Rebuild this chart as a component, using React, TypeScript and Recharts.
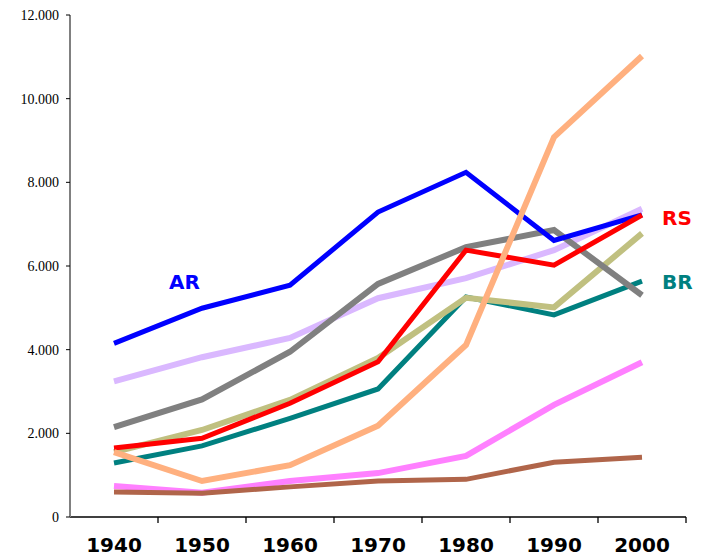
import React from "react";
import { LineChart, Line, XAxis, YAxis, ReferenceDot } from "recharts";

const years = ["1940", "1950", "1960", "1970", "1980", "1990", "2000"];
const yTicks = [0, 2000, 4000, 6000, 8000, 10000, 12000];
const yTickLabels = ["0", "2.000", "4.000", "6.000", "8.000", "10.000", "12.000"];

const seriesAR = [4150, 4990, 5540, 7290, 8240, 6610, 7220];
const seriesLavender = [3240, 3820, 4280, 5230, 5710, 6380, 7370];
const seriesGray = [2150, 2810, 3950, 5570, 6450, 6860, 5300];
const seriesRS = [1650, 1880, 2720, 3710, 6380, 6020, 7220];
const seriesKhaki = [1550, 2080, 2800, 3800, 5240, 5010, 6780];
const seriesBR = [1290, 1700, 2360, 3060, 5260, 4830, 5640];
const seriesPeach = [1550, 860, 1240, 2180, 4110, 9080, 11020];
const seriesPink = [740, 580, 860, 1050, 1460, 2680, 3700];
const seriesBrown = [600, 570, 720, 860, 900, 1310, 1430];

const annotations = [
  { text: "AR", x: "1950", y: 5620, color: "#0000FF", position: "left", offset: 2 },
  { text: "RS", x: "2000", y: 7150, color: "#FF0000", position: "right", offset: 20 },
  { text: "BR", x: "2000", y: 5620, color: "#008080", position: "right", offset: 20 },
];

const data = years.map((year, i) => ({
  year,
  ar: seriesAR[i],
  lavender: seriesLavender[i],
  gray: seriesGray[i],
  rs: seriesRS[i],
  khaki: seriesKhaki[i],
  br: seriesBR[i],
  peach: seriesPeach[i],
  pink: seriesPink[i],
  brown: seriesBrown[i],
}));

const XTick = (props: any) => {
  const { x, y, payload, index, visibleTicksCount } = props;
  const off = payload && typeof payload.offset === "number" && payload.offset > 0 ? payload.offset : 44;
  const isLast = index === (visibleTicksCount ?? years.length) - 1;
  return (
    <g>
      {index > 0 && (
        <line x1={x - off} x2={x - off} y1={y} y2={y + 6} stroke="#000" strokeWidth={1.3} />
      )}
      {isLast && (
        <line x1={x + off} x2={x + off} y1={y} y2={y + 6} stroke="#000" strokeWidth={1.3} />
      )}
      <text
        x={x}
        y={y + 35}
        textAnchor="middle"
        fontFamily="DejaVu Sans"
        fontWeight="bold"
        fontSize={20}
        fill="#000"
      >
        {payload.value}
      </text>
    </g>
  );
};

const fmtY = (v: number) => {
  const i = yTicks.indexOf(v);
  return i >= 0 ? yTickLabels[i] : String(v);
};

export default function App() {
  return (
    <LineChart
      width={697}
      height={549}
      data={data}
      margin={{ top: 7, right: 19, left: 0, bottom: 0 }}
    >
      <XAxis
        dataKey="year"
        scale="band"
        height={40}
        tickSize={0}
        tickMargin={0}
        tickLine={false}
        axisLine={{ stroke: "#000", strokeWidth: 1.5 }}
        tick={<XTick />}
        interval={0}
      />
      <YAxis
        width={62}
        domain={[0, 12000]}
        ticks={yTicks}
        tickFormatter={fmtY}
        interval={0}
        tickSize={4}
        tickMargin={7}
        axisLine={{ stroke: "#808080", strokeWidth: 2 }}
        tickLine={{ stroke: "#000" }}
        tick={{ fontFamily: "Liberation Serif", fontSize: 14, fill: "#000" }}
      />
      <Line dataKey="br" stroke="#008080" strokeWidth={5} dot={false} isAnimationActive={false} />
      <Line dataKey="khaki" stroke="#C0C080" strokeWidth={6} dot={false} isAnimationActive={false} />
      <Line dataKey="pink" stroke="#FF80FF" strokeWidth={6} dot={false} isAnimationActive={false} />
      <Line dataKey="brown" stroke="#B0654A" strokeWidth={5} dot={false} isAnimationActive={false} />
      <Line dataKey="lavender" stroke="#DAB8FF" strokeWidth={6} dot={false} isAnimationActive={false} />
      <Line dataKey="gray" stroke="#808080" strokeWidth={6} dot={false} isAnimationActive={false} />
      <Line dataKey="ar" stroke="#0000FF" strokeWidth={5} dot={false} isAnimationActive={false} />
      <Line dataKey="rs" stroke="#FF0000" strokeWidth={5} dot={false} isAnimationActive={false} />
      <Line dataKey="peach" stroke="#FFB07F" strokeWidth={6} dot={false} isAnimationActive={false} />
      {annotations.map((a) => (
        <ReferenceDot
          key={a.text}
          x={a.x}
          y={a.y}
          r={0}
          stroke="none"
          fill="none"
          label={{
            value: a.text,
            position: a.position as any,
            offset: a.offset,
            fill: a.color,
            fontFamily: "DejaVu Sans",
            fontWeight: "bold",
            fontSize: 20,
          }}
        />
      ))}
    </LineChart>
  );
}
